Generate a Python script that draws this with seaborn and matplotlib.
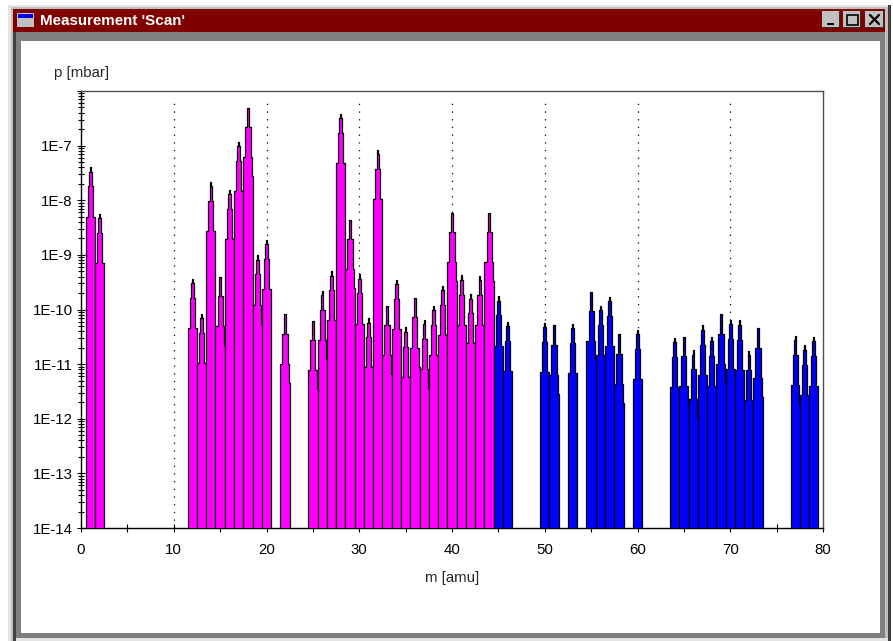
import matplotlib
matplotlib.use("Agg")
import matplotlib.pyplot as plt
from matplotlib.patches import Rectangle
from matplotlib.ticker import FixedLocator, FixedFormatter, LogLocator, NullFormatter
import numpy as np
import seaborn as sns

# peak tops, p in mbar
magenta_masses = [1, 2, 12, 13, 14, 15, 16, 17, 18, 19, 20, 22, 25, 26, 27, 28, 29, 30, 31,
                  32, 33, 34, 35, 36, 37, 38, 39, 40, 41, 42, 43, 44]
magenta_peaks = [4.0e-8, 5.6e-9, 3.6e-10, 8.3e-11, 2.2e-8, 3.9e-10, 1.55e-8, 1.17e-7, 4.9e-7,
                 9.8e-10, 1.9e-9, 8.1e-11, 6.2e-11, 2.2e-10, 5.0e-10, 3.8e-7, 4.4e-9, 4.4e-10,
                 6.9e-11, 8.3e-8, 1.17e-10, 3.5e-10, 4.7e-11, 1.6e-10, 6.5e-11, 1.17e-10,
                 2.75e-10, 5.8e-9, 4.2e-10, 1.9e-10, 4.1e-10, 5.9e-9]
blue_masses = [45, 46, 50, 51, 53, 55, 56, 57, 58, 60, 64, 65, 66, 67, 68, 69, 70, 71, 72, 73,
               77, 78, 79]
blue_peaks = [1.74e-10, 6.0e-11, 5.75e-11, 5.1e-11, 5.4e-11, 2.1e-10, 1.17e-10, 1.7e-10, 3.5e-11,
              4.2e-11, 3.0e-11, 3.2e-11, 1.8e-11, 5.1e-11, 3.2e-11, 8.1e-11, 6.5e-11, 6.3e-11,
              1.74e-11, 4.5e-11, 3.3e-11, 2.2e-11, 3.2e-11]

# stepped shape of one scanned peak: edges in amu, drop below the top in decades
step_edges = [-0.5, -0.28, -0.14, -0.07, 0.07, 0.14, 0.28, 0.46, 0.5]
step_drops = [0.9, 0.35, 0.08, 0.0, 0.08, 0.35, 0.9, 1.25]

x_ticks = list(range(0, 85, 5))
x_labels = [str(t) if t % 10 == 0 else "" for t in x_ticks]
y_ticks = [1e-14, 1e-13, 1e-12, 1e-11, 1e-10, 1e-9, 1e-8, 1e-7, 1e-6]
y_labels = ["1E-14", "1E-13", "1E-12", "1E-11", "1E-10", "1E-9", "1E-8", "1E-7", ""]
grid_masses = [10, 20, 30, 40, 50, 60, 70]

FLOOR = 1e-14
W, H = 893, 641

sns.set_theme(style="white")
plt.rcParams["font.family"] = ["Liberation Sans", "DejaVu Sans"]
plt.rcParams["text.color"] = "black"
plt.rcParams["xtick.color"] = "black"
plt.rcParams["ytick.color"] = "black"


def px_rect(ax, x0, y0, x1, y1, color, zorder=1):
    ax.add_patch(Rectangle((x0, y0), x1 - x0, y1 - y0, facecolor=color, edgecolor="none", zorder=zorder))


def draw_peak(ax, mass, peak, color):
    xs = [mass + step_edges[0]]
    ys = [FLOOR]
    for i, drop in enumerate(step_drops):
        level = peak * 10 ** (-drop)
        xs += [mass + step_edges[i], mass + step_edges[i + 1]]
        ys += [level, level]
    xs.append(mass + step_edges[-1])
    ys.append(FLOOR)
    ax.fill(xs, ys, color=color, lw=0, zorder=3)
    sns.lineplot(x=xs, y=ys, sort=False, estimator=None, color="black", linewidth=0.9,
                 legend=False, ax=ax, zorder=3)


fig = plt.figure(figsize=(W / 100, H / 100), dpi=100, facecolor="white")

# window frame behind the plot
bg = fig.add_axes([0, 0, 1, 1])
bg.set_xlim(0, W)
bg.set_ylim(H, 0)
bg.axis("off")
px_rect(bg, 8, 5, 891, 641, "#c0c0c0")
px_rect(bg, 8, 5, 889, 7, "#e4e4e4")
px_rect(bg, 8, 5, 10.5, 641, "#e4e4e4")
px_rect(bg, 888, 5, 891, 641, "#404040")
px_rect(bg, 13, 638, 888, 641, "#e4e4e4")
px_rect(bg, 13, 9, 885, 32, "#800000")
px_rect(bg, 13, 32, 885, 638, "#808080")
px_rect(bg, 13, 32, 16, 641, "#404040")
px_rect(bg, 20.5, 41, 880, 633, "white")

# title bar
px_rect(bg, 17, 13, 34, 27, "#c0c0c0", zorder=2)
px_rect(bg, 18, 14, 33, 18, "#0000e0", zorder=3)
bg.text(40, 21, "Measurement 'Scan'", color="white", fontsize=10.9, fontweight="bold",
        va="center", ha="left")
for x0, x1 in [(822, 840), (843, 861), (865, 884)]:
    px_rect(bg, x0, 11, x1, 28, "#c0c0c0", zorder=2)
    px_rect(bg, x1 - 1, 11, x1, 28, "#303030", zorder=3)
    px_rect(bg, x0, 27, x1, 28, "#303030", zorder=3)
px_rect(bg, 827, 23, 834, 25, "black", zorder=4)
bg.add_patch(Rectangle((846.5, 15), 11, 10, facecolor="none", edgecolor="black", lw=1.2, zorder=4))
bg.plot([870, 879], [15, 24], color="black", lw=1.6, zorder=4)
bg.plot([879, 870], [15, 24], color="black", lw=1.6, zorder=4)

ax = fig.add_axes([81 / W, (H - 528) / H, (823 - 81) / W, (528 - 91) / H])
ax.set_yscale("log")
ax.set_xlim(0, 80)
ax.set_ylim(FLOOR, 1e-6)

ax.vlines(grid_masses, FLOOR, 7.2e-7, color="black", linewidth=0.9, linestyle=(0, (1, 5.16)), zorder=1)

for mass, peak in zip(magenta_masses, magenta_peaks):
    draw_peak(ax, mass, peak, "#ff00ff")
for mass, peak in zip(blue_masses, blue_peaks):
    draw_peak(ax, mass, peak, "#0000ff")

ax.xaxis.set_major_locator(FixedLocator(x_ticks))
ax.xaxis.set_major_formatter(FixedFormatter(x_labels))
ax.yaxis.set_major_locator(FixedLocator(y_ticks))
ax.yaxis.set_major_formatter(FixedFormatter(y_labels))
ax.yaxis.set_minor_locator(LogLocator(base=10, subs=np.arange(2, 10), numticks=20))
ax.yaxis.set_minor_formatter(NullFormatter())
ax.tick_params(axis="x", which="major", direction="inout", length=6, width=0.8, pad=8,
               labelsize=10.8, bottom=True)
ax.tick_params(axis="y", which="major", direction="inout", length=6, width=0.8, pad=3,
               labelsize=10.8, left=True)
ax.tick_params(axis="y", which="minor", direction="inout", length=4, width=0.8, left=True)

for side in ["left", "bottom"]:
    ax.spines[side].set_color("black")
    ax.spines[side].set_linewidth(1.0)
for side in ["top", "right"]:
    ax.spines[side].set_color("#505050")
    ax.spines[side].set_linewidth(1.0)

ax.set_xlabel("m [amu]", fontsize=10.8)
ax.xaxis.set_label_coords((452 - 81) / (823 - 81), -(578 - 528) / (528 - 91), transform=ax.transAxes)
ax.xaxis.label.set_verticalalignment("center")
ax.set_ylabel("p [mbar]", fontsize=10.8, rotation=0, ha="left", va="center")
ax.yaxis.set_label_coords((54 - 81) / (823 - 81), (528 - 73) / (528 - 91), transform=ax.transAxes)

plt.savefig("out.png", dpi=100)
plt.close()
